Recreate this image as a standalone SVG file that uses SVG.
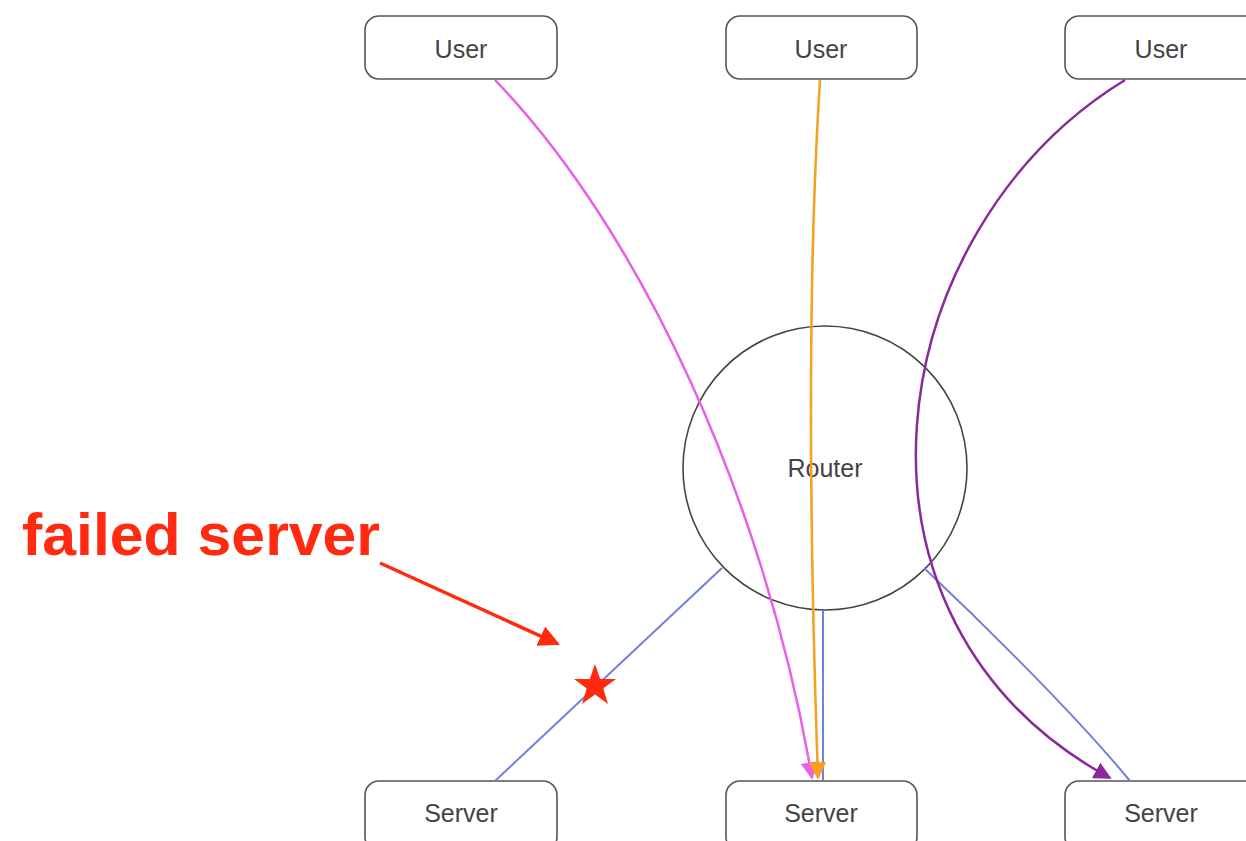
<svg xmlns="http://www.w3.org/2000/svg" width="1246" height="841" viewBox="0 0 1246 841">
<style>
.node rect{fill:#fff;stroke:#555;stroke-width:1.6}
.node text{font-family:"Liberation Sans",Arial,sans-serif;font-size:25px;fill:#444;text-anchor:middle}
.blue{stroke:#7080e0;stroke-width:2;fill:none}
</style>
<defs>
<marker id="aPink" viewBox="0 0 10 10" refX="9" refY="5" markerWidth="7" markerHeight="7" orient="auto" markerUnits="strokeWidth"><path d="M0,0 L10,5 L0,10 z" fill="#e860e8"/></marker>
<marker id="aOrange" viewBox="0 0 10 10" refX="9" refY="5" markerWidth="7" markerHeight="7" orient="auto" markerUnits="strokeWidth"><path d="M0,0 L10,5 L0,10 z" fill="#f5a020"/></marker>
<marker id="aPurple" viewBox="0 0 10 10" refX="9" refY="5" markerWidth="7" markerHeight="7" orient="auto" markerUnits="strokeWidth"><path d="M0,0 L10,5 L0,10 z" fill="#8a2a9a"/></marker>
<marker id="aRed" viewBox="0 0 10 10" refX="9" refY="5" markerWidth="6" markerHeight="6" orient="auto" markerUnits="strokeWidth"><path d="M0,0 L10,5 L0,10 z" fill="#ff2a10"/></marker>
</defs>
<rect width="1246" height="841" fill="#fff"/>
<g id="user1" class="node"><rect x="365" y="16" width="192" height="63" rx="14"/><text x="461" y="58">User</text></g>
<g id="user2" class="node"><rect x="726" y="16" width="191" height="63" rx="14"/><text x="821" y="58">User</text></g>
<g id="user3" class="node"><rect x="1065" y="16" width="200" height="63" rx="14"/><text x="1161" y="58">User</text></g>
<g id="server1" class="node"><rect x="365" y="781" width="192" height="70" rx="14"/><text x="461" y="822">Server</text></g>
<g id="server2" class="node"><rect x="726" y="781" width="191" height="70" rx="14"/><text x="821" y="822">Server</text></g>
<g id="server3" class="node"><rect x="1065" y="781" width="200" height="70" rx="14"/><text x="1161" y="822">Server</text></g>
<g id="router" class="node"><circle cx="825" cy="468" r="142" fill="none" stroke="#444" stroke-width="1.6"/><text x="825" y="477">Router</text></g>
<g id="connectors">
<path class="blue" d="M722,568 L495,781"/>
<path class="blue" d="M823,610 L823,780"/>
<path class="blue" d="M924,568 C990,630 1080,720 1130,781"/>
<path d="M495,80 C640,230 765,500 812,778" stroke="#e860e8" stroke-width="2.5" fill="none" marker-end="url(#aPink)"/>
<path d="M820,80 C806,300 810,550 818,778" stroke="#f5a020" stroke-width="2.5" fill="none" marker-end="url(#aOrange)"/>
<path d="M1125,80 C880,230 820,620 1110,778" stroke="#8a2a9a" stroke-width="2.5" fill="none" marker-end="url(#aPurple)"/>
</g>
<g id="annotation">
<text x="22" y="555" font-family="'Liberation Sans',Arial,sans-serif" font-weight="bold" font-size="60" fill="#ff2a10" textLength="358" lengthAdjust="spacingAndGlyphs">failed server</text>
<path d="M380,563 L558,644" stroke="#ff2a10" stroke-width="3.5" fill="none" marker-end="url(#aRed)"/>
<polygon points="595,664 600.2,679 616,679 603.3,688.5 608,704 595,694.5 582,704 586.7,688.5 574,679 589.8,679" fill="#ff2a10"/>
</g>
</svg>
